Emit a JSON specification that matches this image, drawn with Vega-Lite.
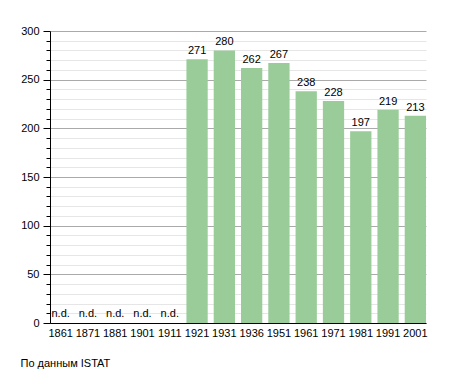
{
  "$schema": "https://vega.github.io/schema/vega-lite/v6.json",
  "autosize": "none",
  "width": 376,
  "height": 292,
  "padding": {"left": 50, "top": 31, "right": 29, "bottom": 50},
  "background": "white",
  "config": {
    "view": {"stroke": null},
    "font": "Liberation Sans",
    "axis": {"labelFont": "Liberation Sans", "labelFontSize": 11, "labelColor": "#000", "titleFont": "Liberation Sans"}
  },
  "data": {
    "values": [
      {"year": "1861", "value": null, "label": "n.d."},
      {"year": "1871", "value": null, "label": "n.d."},
      {"year": "1881", "value": null, "label": "n.d."},
      {"year": "1901", "value": null, "label": "n.d."},
      {"year": "1911", "value": null, "label": "n.d."},
      {"year": "1921", "value": 271, "label": "271"},
      {"year": "1931", "value": 280, "label": "280"},
      {"year": "1936", "value": 262, "label": "262"},
      {"year": "1951", "value": 267, "label": "267"},
      {"year": "1961", "value": 238, "label": "238"},
      {"year": "1971", "value": 228, "label": "228"},
      {"year": "1981", "value": 197, "label": "197"},
      {"year": "1991", "value": 219, "label": "219"},
      {"year": "2001", "value": 213, "label": "213"}
    ]
  },
  "encoding": {
    "x": {
      "field": "year", "type": "ordinal",
      "scale": {"domain": ["1861","1871","1881","1901","1911","1921","1931","1936","1951","1961","1971","1981","1991","2001"], "paddingInner": 0.22, "paddingOuter": 0.0},
      "axis": {
        "labelAngle": 0, "ticks": false, "labelPadding": 4,
        "domainColor": "#000", "domainWidth": 1,
        "title": "По данным  ISTAT",
        "titleFontSize": 11, "titleFontWeight": "normal", "titleColor": "#000",
        "titleAnchor": "start", "titleAlign": "left", "titleBaseline": "alphabetic",
        "titleX": -30, "titleY": 43
      }
    },
    "y": {
      "field": "value", "type": "quantitative",
      "scale": {"domain": [0, 300], "nice": false, "zero": true},
      "axis": {
        "title": null,
        "values": [0,10,20,30,40,50,60,70,80,90,100,110,120,130,140,150,160,170,180,190,200,210,220,230,240,250,260,270,280,290,300],
        "labelExpr": "datum.value % 50 === 0 ? datum.label : ''",
        "grid": true,
        "gridColor": {"condition": {"test": "datum.value % 50 === 0", "value": "#aaaaaa"}, "value": "#e6e6e6"},
        "tickSize": {"condition": {"test": "datum.value % 50 === 0", "value": 7}, "value": 4},
        "tickColor": "#000",
        "domainColor": "#000",
        "labelPadding": 4
      }
    }
  },
  "layer": [
    {
      "mark": {"type": "bar", "color": "#99cc99"}
    },
    {
      "transform": [{"filter": "datum.value != null"}],
      "mark": {"type": "text", "baseline": "bottom", "dy": -3, "fontSize": 11, "color": "#000"},
      "encoding": {
        "text": {"field": "label"}
      }
    },
    {
      "transform": [{"filter": "datum.value == null"}],
      "mark": {"type": "text", "baseline": "bottom", "dy": -4, "fontSize": 11, "color": "#000", "y": {"expr": "height"}},
      "encoding": {
        "y": null,
        "text": {"field": "label"}
      }
    }
  ]
}
